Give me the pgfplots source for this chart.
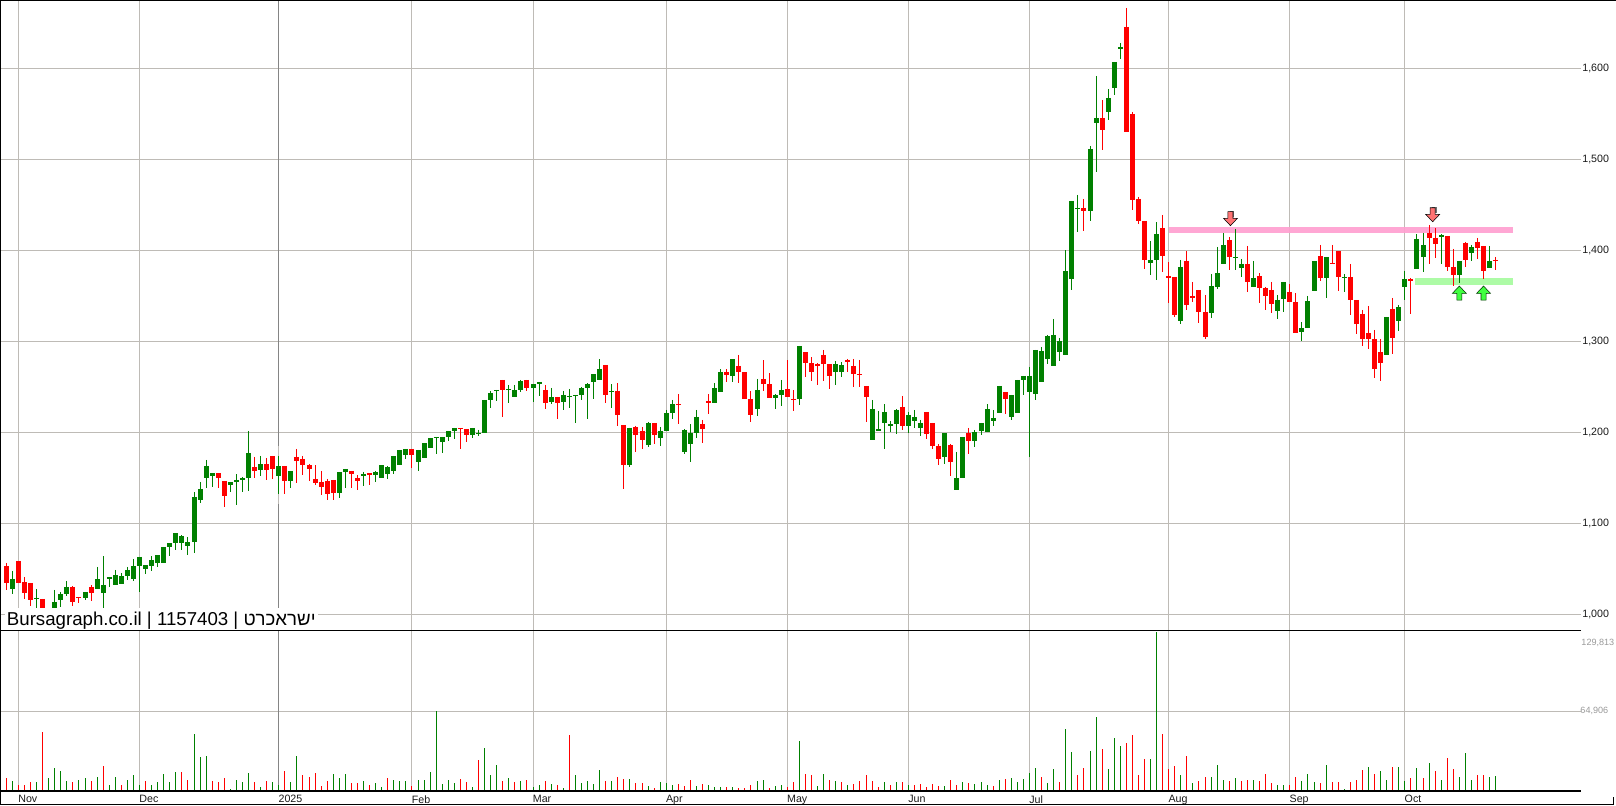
\documentclass[border=0pt]{standalone}
\usepackage{fontspec}
\usepackage{pgfplots}
\usepackage{pgfplotstable}
\pgfplotsset{compat=1.18}
\setmainfont{Liberation Sans}
\newfontfamily\hebfont[Script=Hebrew]{Liberation Sans}
\TeXXeTstate=1
\definecolor{cg}{HTML}{008000}
\definecolor{cr}{HTML}{FF0000}
\definecolor{gridc}{HTML}{BEBBB6}
\definecolor{pinkband}{HTML}{FFA0D0}
\definecolor{greenband}{HTML}{A6FB9E}

\pgfdeclareplotmark{dnarrow}{%
  \pgfsetfillcolor{black!55}\pgfsetstrokecolor{black!55}%
  \pgfpathrectangle{\pgfpoint{-0.6pt}{1pt}}{\pgfpoint{3.6pt}{5pt}}\pgfusepathqfill
  \pgfsetfillcolor{red!55!white}\pgfsetstrokecolor{black}%
  \pgfpathmoveto{\pgfpoint{-1.9pt}{5.25pt}}%
  \pgfpathlineto{\pgfpoint{1.9pt}{5.25pt}}%
  \pgfpathlineto{\pgfpoint{1.9pt}{0.3pt}}%
  \pgfpathlineto{\pgfpoint{5.25pt}{0.3pt}}%
  \pgfpathlineto{\pgfpoint{0pt}{-5.25pt}}%
  \pgfpathlineto{\pgfpoint{-5.25pt}{0.3pt}}%
  \pgfpathlineto{\pgfpoint{-1.9pt}{0.3pt}}%
  \pgfpathclose\pgfusepathqfillstroke}
\pgfdeclareplotmark{uparrow}{%
  \pgfsetfillcolor{green!75!white}\pgfsetstrokecolor{black!80!green}%
  \pgfpathmoveto{\pgfpoint{-1.9pt}{-5.25pt}}%
  \pgfpathlineto{\pgfpoint{1.9pt}{-5.25pt}}%
  \pgfpathlineto{\pgfpoint{1.9pt}{-0.3pt}}%
  \pgfpathlineto{\pgfpoint{5.25pt}{-0.3pt}}%
  \pgfpathlineto{\pgfpoint{0pt}{5.25pt}}%
  \pgfpathlineto{\pgfpoint{-5.25pt}{-0.3pt}}%
  \pgfpathlineto{\pgfpoint{-1.9pt}{-0.3pt}}%
  \pgfpathclose\pgfusepathqfillstroke}

% i high bodytop bodybottom low
\pgfplotstableread{
i h t b l
1 1047.6 1038.8 1027.8 1022.3
5 1027.8 1017.9 1016.8 1005
7 1006 1005 1000 998
8 1026.7 1013.5 1003 1000
9 1024.5 1022.3 1015.7 1008
10 1036.6 1030 1022.3 1020
13 1024.5 1024.5 1018 1015.7
15 1052 1038.8 1027.8 1027.8
16 1064 1032.2 1023.4 1007
17 1041 1041 1038.8 1030
18 1048.7 1043.2 1032.2 1032.2
19 1045 1042 1033.3 1033.3
20 1052 1048.7 1042 1037.7
21 1060.8 1053 1038.8 1036.6
22 1063 1063 1053 1024.5
23 1054 1054 1049.8 1044.3
24 1064 1059.7 1053 1047.6
25 1065 1065 1056.4 1052
26 1074 1074 1056.4 1056.4
27 1078 1078 1074 1064
28 1089 1089 1078 1070.7
29 1087 1086 1078 1070.7
30 1085 1079 1075 1065
31 1134.4 1129 1079 1067.4
32 1145.4 1137.7 1125.6 1122.3
33 1169.6 1163 1149.8 1138.8
34 1155 1155 1152 1140
37 1145.4 1145.4 1142 1134.4
38 1154 1147.6 1145.4 1120
39 1151 1149.8 1147.6 1134.4
40 1201.4 1177.3 1149.8 1135.5
42 1174 1165 1158.6 1152
45 1174 1163 1152 1132.3
47 1157.5 1157.5 1146.5 1139
55 1156.4 1156.4 1133.4 1128
56 1159.7 1159.7 1156.4 1139
59 1156.4 1154 1152 1141
61 1157.5 1156.4 1153 1145
62 1164 1164 1150 1150
63 1163 1162 1154 1148.7
64 1174 1174 1157.5 1154
65 1180.6 1180.6 1164 1164
66 1181.7 1181.7 1175 1170.7
68 1180.6 1180.6 1167.4 1157.5
69 1188 1188 1171.8 1171.8
70 1193.8 1193.8 1182.8 1182.8
71 1195 1195 1193.8 1176.2
72 1195 1195 1189.4 1177.3
73 1201.5 1201.5 1195 1190.5
74 1204.8 1204.8 1201.5 1192.7
77 1204.8 1204.8 1197 1193.8
78 1202.6 1199 1198 1196
79 1235.6 1235.6 1199 1199
80 1245.5 1243 1235.6 1226.8
81 1246.6 1246.6 1245.5 1234.5
83 1252 1247.7 1246.6 1232.3
84 1252 1246.6 1238.9 1238.9
85 1257.5 1256.4 1246.6 1244.4
87 1253 1253 1248.7 1233.4
88 1255.3 1255.3 1253 1240
90 1248.7 1238.8 1233.3 1231
92 1245.4 1241 1233.3 1224.5
93 1247.6 1239.9 1238.8 1226.7
94 1241 1241 1239.9 1210.2
95 1249.8 1248.7 1241 1235.5
96 1254 1253 1248.7 1214.6
97 1264 1264 1255 1236.6
98 1280.5 1269.5 1257.5 1257.5
100 1253 1245.4 1244.3 1226.7
103 1205 1205 1164 1161.8
106 1211.3 1210.2 1186 1183.8
108 1205.8 1201.4 1193.7 1185
109 1224.5 1221.2 1201.4 1201.4
110 1235.5 1231 1221 1214.6
112 1203.6 1202.5 1178.3 1176
113 1209 1199 1187 1167.4
114 1224.5 1216.8 1199 1193.7
117 1254 1248.7 1232.2 1232.2
118 1269.5 1266 1244.3 1244.3
120 1280.5 1280.5 1261.9 1255
124 1258.6 1246.5 1225.6 1218
127 1242 1241 1237.7 1225.6
128 1257.5 1246.5 1241 1228.9
131 1294.8 1294.8 1236.6 1230
137 1278.4 1275 1266 1252
138 1277 1274 1266 1260.8
143 1235.5 1225.6 1191.5 1191.5
144 1223.4 1203.6 1201.4 1201.4
145 1231 1222.3 1210.2 1181.7
146 1212.4 1209 1206.9 1200.3
147 1225.6 1224.5 1209 1198
149 1222.3 1219 1206.9 1199
150 1224.5 1216.8 1212.4 1204.7
151 1213.5 1210.2 1204.7 1196
155 1199 1199 1172.9 1165
157 1178.4 1149.8 1137 1137
158 1194.9 1194.9 1149.8 1149.8
160 1202.5 1200.3 1190.4 1183.9
161 1210.2 1210.2 1201.4 1197
162 1231 1225.6 1200.3 1200.3
163 1224.5 1215.7 1212.4 1207
164 1250.9 1250.9 1221.2 1221.2
166 1241 1241 1216.8 1213.5
167 1257.5 1257.5 1221.2 1221.2
168 1261.9 1261.9 1257.5 1241
169 1271.8 1261.9 1244.3 1172.9
170 1290.5 1290.5 1242 1235.5
171 1293.8 1289.4 1255.3 1255.3
172 1307 1306 1280 1275
173 1324.5 1307 1272.8 1272.8
174 1303.6 1300.3 1288.2 1278.3
175 1400 1377.3 1285 1285
176 1454.2 1454.2 1368.5 1356.4
177 1460.8 1446.5 1445.4 1420
179 1514.7 1511.4 1443.2 1432
180 1591.6 1545.4 1540 1486
182 1577.3 1567.4 1552 1543.2
183 1607 1607 1578.4 1570.7
184 1627.8 1623.5 1621.3 1610.3
189 1410.3 1389.4 1386.1 1373
190 1431 1418 1389.4 1367.4
194 1389.4 1381.7 1322.3 1319
199 1374 1360.8 1331 1325.6
200 1403.7 1375 1359.7 1357.5
201 1419 1405.9 1385 1385
203 1423.4 1392.7 1391.6 1378.4
204 1390.5 1385 1380.6 1370.7
206 1388.3 1369.6 1359.7 1359.7
210 1351 1345.4 1333.3 1324.5
211 1365.2 1365.2 1346.5 1332.2
214 1321.2 1314.7 1310.3 1300.4
215 1349.8 1344.3 1314.7 1314.7
216 1388.3 1388.3 1355.3 1355.3
218 1392.7 1392.7 1369.6 1347.6
221 1374 1370.7 1369.6 1354.2
228 1326.7 1326.7 1285 1285
230 1340 1337.7 1322.3 1311.4
231 1377.3 1368.5 1359.7 1345.4
233 1418 1412.5 1379.5 1379.5
234 1419 1405.9 1392.7 1376.2
237 1418 1416.8 1414.6 1385
240 1388.3 1388.3 1372.9 1364.1
242 1405.9 1403.7 1397 1388.3
245 1404.7 1388.2 1380.5 1380.5
}\greencandles

\pgfplotstableread{
i h t b l
0 1056.4 1053 1034.4 1026.7
2 1058.6 1058.6 1034.4 1034.4
3 1041 1035.5 1023.4 1016.8
4 1034.4 1034.4 1015.7 1009.1
6 1016.8 1016.8 1005 1003
11 1031 1030 1013.5 1009.1
12 1019 1019 1018 1012.4
14 1032 1030 1023.4 1014.6
35 1155 1155 1149.8 1138.8
36 1146.5 1146.5 1130 1118
41 1172.9 1161.9 1157.5 1149.8
43 1171.8 1165 1158.6 1147.6
44 1174 1174 1159.7 1148.7
46 1163 1163 1146.5 1132.3
48 1181.7 1173 1168.5 1144.4
49 1174 1170.7 1164 1153
50 1165 1164 1159.7 1146.5
51 1164 1148.7 1144.4 1142
52 1157.5 1145.4 1140 1131
53 1148.7 1146.5 1132.3 1125.7
54 1147.6 1147.6 1133.4 1125.7
57 1157.5 1157.5 1154 1139
58 1153 1150 1146.5 1136.7
60 1155 1155 1153 1142
67 1181.7 1181.7 1175 1160.8
75 1204.8 1204.8 1203.7 1181.7
76 1203.7 1203.7 1197 1189.4
82 1257.5 1257.5 1246.6 1217
86 1257.5 1257.5 1248.7 1245.5
89 1252 1246.6 1232.3 1225.7
91 1238.8 1238.8 1232.2 1214.6
99 1274 1274 1241 1232.2
101 1254 1245.4 1219 1207
102 1208 1208 1164 1138
104 1207 1205.8 1197 1178
105 1205.8 1201.4 1191.5 1181.6
107 1210.2 1210.2 1197 1187
111 1242 1231 1230 1209
115 1213.5 1209 1203.6 1188
116 1242 1234.4 1232.2 1220
119 1269.5 1266 1263 1255
121 1285 1272.9 1266 1254
122 1266 1266 1236.6 1236.6
123 1245.4 1236.6 1219 1211.3
125 1279.4 1258.6 1253 1245.4
126 1265 1253 1237.7 1237.7
129 1279.4 1247.6 1238.8 1238.8
130 1246.5 1236.6 1235.5 1223.4
132 1288 1288 1276 1260.8
133 1282.7 1276 1266 1256
134 1276 1275 1272.9 1252
135 1290.5 1285 1275 1256.4
136 1275 1275 1261.9 1247.6
139 1280.6 1279.5 1277 1266
140 1280.6 1272.9 1264 1249.8
141 1279.5 1264 1263 1249.8
142 1250.9 1250.9 1238.8 1211.3
148 1239.9 1227.8 1206.9 1202.5
152 1222.3 1222.3 1198.1 1192.6
153 1210.2 1210.2 1185 1181.7
154 1187 1185 1170.7 1164
156 1187 1186 1167.4 1152
159 1204.7 1199 1190.4 1176
165 1244.3 1244.3 1236.6 1220
178 1456.4 1446.5 1443.2 1421
181 1565.2 1545.4 1532.2 1510.3
185 1666.3 1645.4 1530 1530
186 1552 1549.8 1455.3 1444.3
187 1458.6 1456.4 1432.2 1429
188 1432.2 1432.2 1389.4 1379.5
191 1438.8 1424.5 1393.8 1376.2
192 1387 1371.8 1369.6 1342
193 1370.7 1370.7 1329 1326.7
195 1399.3 1388.3 1340 1334.4
196 1365.2 1349.8 1347.6 1343.2
197 1356.4 1356.4 1332.2 1320
198 1351 1332.2 1304.8 1302.6
202 1414.6 1411.4 1392.7 1378.4
205 1404.8 1385 1365.2 1354.2
207 1375 1371.8 1358.6 1342
208 1359.7 1358.6 1349.8 1334.4
209 1365.2 1356.4 1341 1331
212 1363 1354.2 1343.2 1343.2
213 1353 1343.2 1309 1309
217 1405.9 1393.8 1369.6 1366.3
219 1405.9 1386 1385 1385
220 1399.3 1399.3 1370.7 1355.3
222 1385 1370.7 1345.4 1329
223 1345.4 1345.4 1319 1308
224 1334.4 1330 1302.6 1295
225 1338.8 1309 1302.6 1291.6
226 1312.5 1302.6 1269.6 1259.7
227 1302.6 1288.3 1276.2 1256.4
229 1347.6 1335.5 1303.7 1286
232 1369.6 1368.5 1366.3 1330
235 1427.8 1419 1413.6 1385
236 1424.5 1413.6 1407 1391.6
238 1415.7 1415.7 1381.7 1377.3
239 1401.5 1381.7 1372.9 1360.8
241 1409.2 1408 1389.4 1381.7
243 1413.6 1409.2 1402.6 1390.5
244 1404.7 1404.7 1377.2 1368.4
246 1392.6 1389.3 1388.2 1378.3
}\redcandles

% volume, thousands
\pgfplotstableread{
i v
1 7.4
5 6.6
7 9.9
8 18.1
9 15.6
10 7.4
12 8.2
13 9.9
15 10.7
17 4.9
18 10.7
20 8.2
21 12.3
22 4.9
24 4.9
25 6.6
26 13.2
27 6.6
28 14.8
31 46
32 27.1
33 27.9
37 1.6
38 8.2
39 6.6
40 14
42 2.5
44 6.6
45 4.9
47 6.6
48 27.9
54 13.2
55 9.9
56 13.2
59 7.4
61 5.8
62 2.5
64 8.2
65 7.7
66 7.7
68 8.5
69 8.5
70 15.1
71 64.9
72 5.2
73 8.5
74 6
77 2.7
79 34.8
80 12.6
81 20.8
83 10.1
85 7.7
87 2.7
88 4.4
90 5.2
92 1.9
94 12.6
95 6
96 7.7
97 5.2
98 16.7
100 7.7
103 9.3
106 3.6
108 6.9
109 6
110 4.4
114 3.6
116 4.4
117 2.7
118 2.7
120 2.7
124 7.7
125 8.5
127 3.6
128 4.4
131 40.5
134 3.6
135 13.4
137 7.7
139 4.4
145 6.9
147 6.9
149 4.4
155 3.6
158 6.9
160 5.2
161 6.9
162 4.4
164 8.5
166 10.1
167 6.9
168 9.3
169 14.2
170 18.4
172 6
173 17.5
175 50.4
176 31.5
179 32.3
180 60.3
182 17.5
183 42.7
184 36.2
189 25.8
190 129.8
194 12.3
196 5.8
199 10.7
200 20.6
201 8.2
203 9.9
206 9
210 4.9
211 4.1
214 7.4
215 13.2
216 6.6
218 20.6
221 1.6
225 18.9
227 15.6
228 9
230 18.9
231 7.4
233 18.1
235 22.2
237 9
240 10.7
241 30.4
242 9
245 10.7
246 11.5
}\greenvol

\pgfplotstableread{
i v
0 9.9
2 4.1
3 4.9
4 6.6
6 47.7
11 6.6
14 7.4
16 19.7
19 4.9
23 7.4
29 14.8
30 8.2
34 7.4
35 6.6
36 9.9
41 6.6
43 7.4
46 15.6
49 12.3
50 10.7
51 14
52 3.3
53 7.4
57 5.8
58 5.8
60 4.1
63 9.9
67 3.6
75 9.3
76 6.9
78 24.9
82 7.7
84 6.9
86 8.5
89 7.7
91 4.4
93 45.5
99 7.7
101 11
102 9.3
104 6
105 6
107 1.9
111 5.2
112 3.6
113 8.5
115 5.2
119 2.7
121 1.9
122 1.9
123 4.4
126 1.9
129 2.7
130 6.9
132 13.4
133 12.6
136 8.5
138 6.9
140 5.2
141 7.7
142 12.6
143 7.7
144 2.7
146 4.4
148 6.9
150 4.4
151 5.2
152 2.7
153 5.2
154 3.6
156 8.5
157 4.4
159 6
163 3.6
165 9.3
171 11
174 6.9
177 12.6
178 18.4
181 34
185 38.9
186 45.5
187 12.6
188 25.8
191 46
192 17.3
193 19.7
195 27.9
197 7.4
198 10.7
202 7.4
204 7.4
205 8.2
207 7.4
208 13.2
209 5.8
212 4.1
213 10.7
217 5.8
219 6.6
220 6.6
222 6.6
223 9
224 16.4
226 13.2
229 18.9
232 9.9
234 9.9
236 15.6
238 26.3
239 17.3
243 12.3
244 12.3
}\redvol

\pgfplotsset{
  base/.style={
    scale only axis,
    width=1185.75pt,
    xmin=-1.045, xmax=260.1,
    xtick={2,22,45,67,87,109,129,149,169,192,212,231},
    grid=major,
    major grid style={color=gridc,line width=0.75pt},
    axis line style={draw=none},
    major tick length=0pt,
    tick style={draw=none},
    ytick pos=right,
    yticklabel pos=right,
    clip=true,
  },
  wick/.style={draw=none,mark=none,error bars/.cd,y dir=minus,y explicit,error mark=none,
     error bar style={draw=#1,line width=0.75pt}},
  body/.style={draw=none,mark=none,error bars/.cd,y dir=minus,y explicit,error mark=none,
     error bar style={draw=#1,line width=3.75pt}},
}

\begin{document}
\begin{tikzpicture}
\useasboundingbox (0pt,0pt) rectangle (1212pt,604.5pt);
\begin{axis}[base,
  at={(0pt,131.775pt)},anchor=south west,
  height=472.725pt,
  ymin=982.4, ymax=1675,
  xticklabels={},
  ytick={1000,1100,1200,1300,1400,1500,1600},
  yticklabel style={font=\fontsize{8}{9}\selectfont,anchor=west,inner sep=0pt,xshift=0.8pt,color=black!90,
     /pgf/number format/.cd,1000 sep={,},assume math mode=true},
]
\addplot[draw=pinkband,line width=4.4pt,opacity=0.92] coordinates {(192,1422.5)(248.9,1422.5)};
\addplot[draw=greenband,line width=5.25pt,opacity=0.92] coordinates {(232.7,1366)(248.9,1366)};
\addplot[draw=black!48,line width=0.75pt] coordinates {(45,1675)(45,1185)};
\addplot[draw=black!48,line width=0.75pt] coordinates {(45,1121)(45,982.4)};
\addplot[wick=cg] table[x=i,y=h,y error minus expr=\thisrow{h}-\thisrow{l}] {\greencandles};
\addplot[body=cg] table[x=i,y=t,y error minus expr=\thisrow{t}-\thisrow{b}] {\greencandles};
\addplot[wick=cr] table[x=i,y=h,y error minus expr=\thisrow{h}-\thisrow{l}] {\redcandles};
\addplot[body=cr] table[x=i,y=t,y error minus expr=\thisrow{t}-\thisrow{b}] {\redcandles};
\addplot[only marks,mark=dnarrow] coordinates {(202.2,1434.7)(235.6,1439)};
\addplot[only marks,mark=uparrow] coordinates {(240,1353)(244,1353)};
\end{axis}
\begin{axis}[base,
  at={(0pt,11.625pt)},anchor=south west,
  height=120.15pt,
  ymin=0, ymax=131.288,
  xticklabels={Nov,Dec,2025,Feb,Mar,Apr,May,Jun,Jul,Aug,Sep,Oct},
  xticklabel style={font=\fontsize{8}{9}\selectfont,anchor=north west,inner sep=0pt,xshift=-0.3pt,yshift=-3.4pt,color=black!90},
  ytick={64.906},
  yticklabels={64{,}906},
  yticklabel style={font=\fontsize{6.8}{8}\selectfont,anchor=west,inner sep=0pt,xshift=-0.6pt,color=black!40},
]
\addplot[draw=black!48,line width=0.75pt] coordinates {(45,0)(45,131.288)};
\addplot[ycomb,mark=none,color=cg,line width=0.75pt] table[x=i,y=v] {\greenvol};
\addplot[ycomb,mark=none,color=cr,line width=0.75pt] table[x=i,y=v] {\redvol};
\end{axis}
% caption box
\fill[white] (3.75pt,132pt) rectangle (238.5pt,148.5pt);
\node[anchor=base west,inner sep=0pt,font=\fontsize{14}{16}\selectfont] at (5pt,135.2pt)
  {Bursagraph.co.il | 1157403 | {\hebfont\beginR ישראכרט\endR}};
% frame lines
\draw[black,line width=0.75pt] (1185.75pt,131.9pt) -- (0.35pt,131.9pt) -- (0.35pt,0.8pt) -- (1210pt,0.8pt) -- (1210pt,7pt);
\draw[black,line width=0.75pt] (0.35pt,131.9pt) -- (0.35pt,604.15pt) -- (1212pt,604.15pt);
\draw[black,line width=1.5pt] (0pt,11.3pt) -- (1185.75pt,11.3pt);
\node[anchor=west,inner sep=0pt,font=\fontsize{6.8}{8}\selectfont,color=black!40] at (1185.9pt,122.5pt) {129,813};
\end{tikzpicture}
\end{document}
